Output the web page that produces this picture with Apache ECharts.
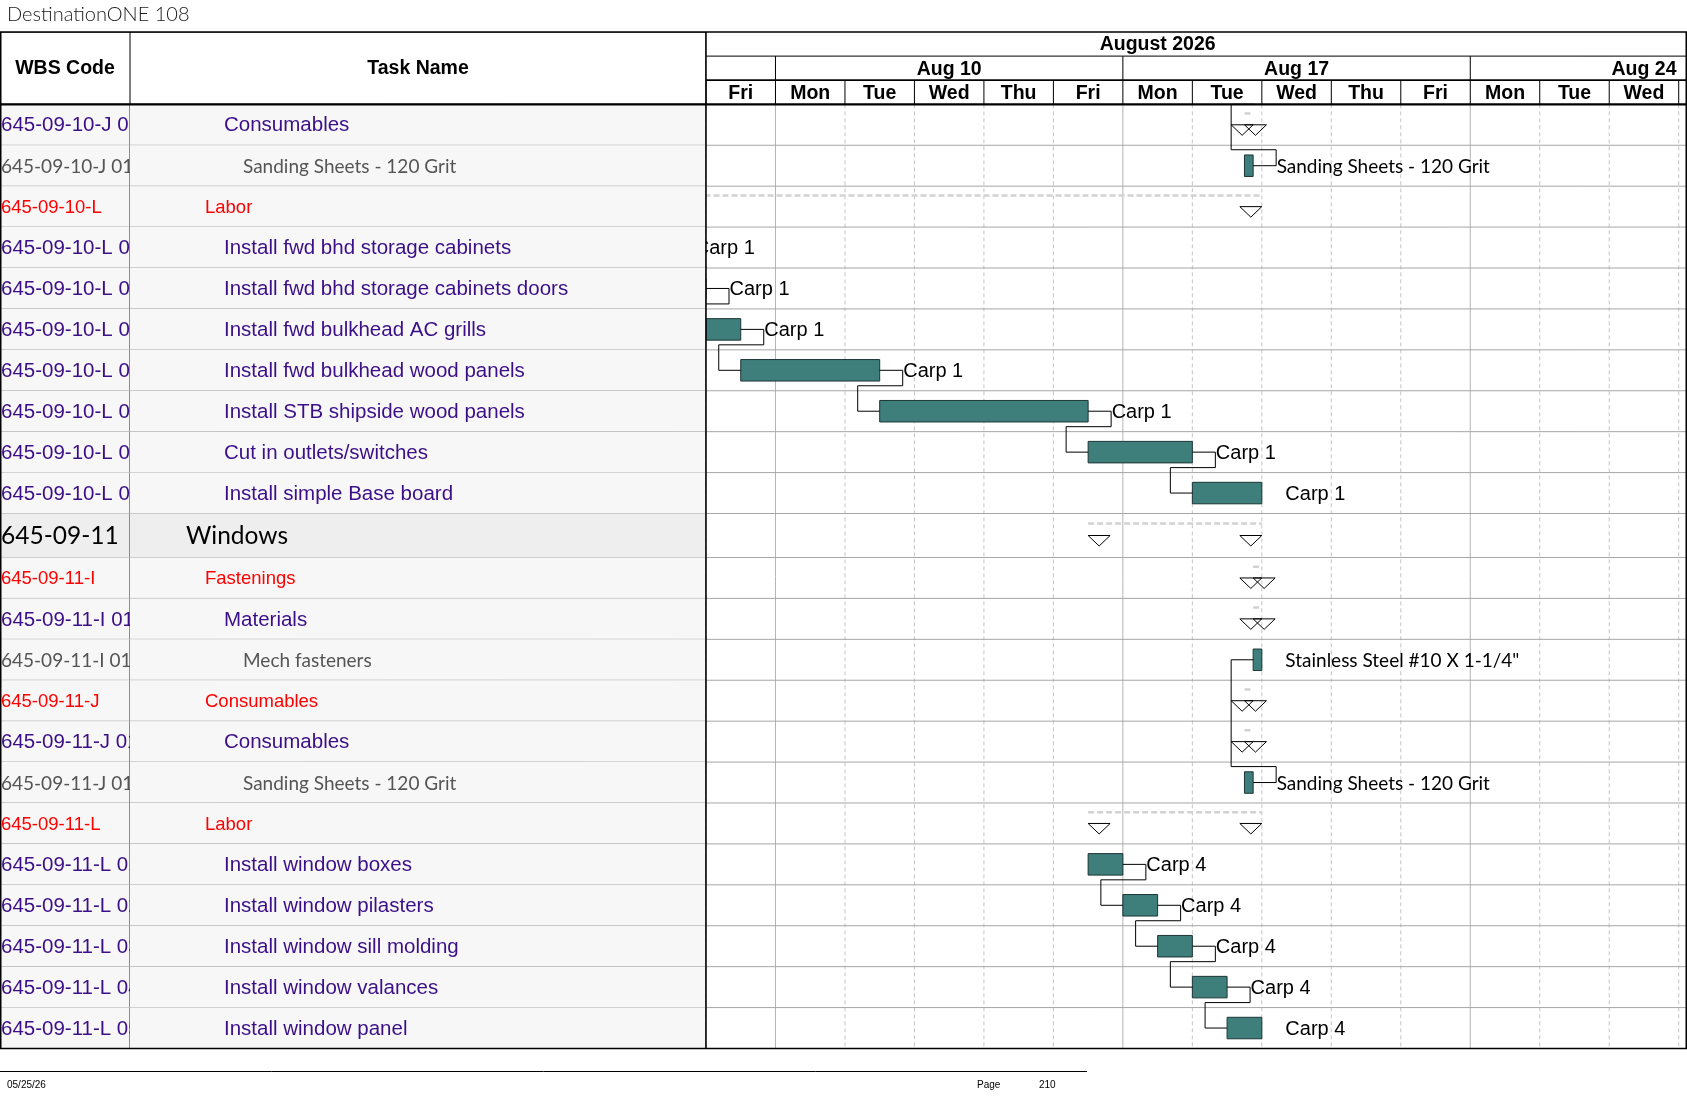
<!DOCTYPE html>
<html>
<head>
<meta charset="utf-8">
<title>DestinationONE 108</title>
<script src="https://cdn.jsdelivr.net/npm/echarts@6/dist/echarts.min.js"></script>
<style>
  html, body { margin: 0; padding: 0; background: #fff; }
  #main { width: 1687px; height: 1097px; }
</style>
</head>
<body>
<div id="main"></div>
<script>
// ---- data (one entry per row, top to bottom) ----
const wbsCodes = [
  '645-09-10-J 01', '645-09-10-J 01-01', '645-09-10-L',
  '645-09-10-L 01', '645-09-10-L 02', '645-09-10-L 03', '645-09-10-L 04',
  '645-09-10-L 05', '645-09-10-L 06', '645-09-10-L 07',
  '645-09-11', '645-09-11-I', '645-09-11-I 01', '645-09-11-I 01-01',
  '645-09-11-J', '645-09-11-J 01', '645-09-11-J 01-01', '645-09-11-L',
  '645-09-11-L 01', '645-09-11-L 02', '645-09-11-L 03', '645-09-11-L 04', '645-09-11-L 05'
];
const taskNames = [
  'Consumables', 'Sanding Sheets - 120 Grit', 'Labor',
  'Install fwd bhd storage cabinets', 'Install fwd bhd storage cabinets doors',
  'Install fwd bulkhead AC grills', 'Install fwd bulkhead wood panels',
  'Install STB shipside wood panels', 'Cut in outlets/switches', 'Install simple Base board',
  'Windows', 'Fastenings', 'Materials', 'Mech fasteners',
  'Consumables', 'Consumables', 'Sanding Sheets - 120 Grit', 'Labor',
  'Install window boxes', 'Install window pilasters', 'Install window sill molding',
  'Install window valances', 'Install window panel'
];
// outline level: 0 section, 1 group, 2 task/sub-group, 3 material line
const taskLevels = [2, 3, 1, 2, 2, 2, 2, 2, 2, 2, 0, 1, 2, 3, 1, 2, 3, 1, 2, 2, 2, 2, 2];
// S = summary (markers), T = task bar
const taskKinds = ['S', 'T', 'S', 'T', 'T', 'T', 'T', 'T', 'T', 'T', 'S', 'S', 'S', 'T', 'S', 'S', 'T', 'S', 'T', 'T', 'T', 'T', 'T'];
// working days counted from Fri Aug 7 2026 (weekends skipped)
const startDays = [7.75, 7.75, -3, -1.5, -0.5, 0, 0.5, 2.5, 5.5, 7.0, 5.5, 7.875, 7.875, 7.875, 7.75, 7.75, 7.75, 5.5, 5.5, 6.0, 6.5, 7.0, 7.5];
const endDays   = [7.875, 7.875, 8, -0.5, 0, 0.5, 2.5, 5.5, 7.0, 8.0, 8.0, 8.0, 8.0, 8.0, 7.875, 7.875, 7.875, 8.0, 6.0, 6.5, 7.0, 7.5, 8.0];
const barLabels = [
  '', 'Sanding Sheets - 120 Grit', '', 'Carp 1', 'Carp 1', 'Carp 1', 'Carp 1', 'Carp 1', 'Carp 1', 'Carp 1',
  '', '', '', 'Stainless Steel #10 X 1-1/4"', '', '', 'Sanding Sheets - 120 Grit', '',
  'Carp 4', 'Carp 4', 'Carp 4', 'Carp 4', 'Carp 4'
];
// finish-to-start links (row index; -1 = task on the previous page)
const linkFrom = [1, 3, 4, 5, 6, 7, 8, 16, 18, 19, 20, 21];
const linkTo   = [-1, 4, 5, 6, 7, 8, 9, 13, 19, 20, 21, 22];
const offPageStart = 7.875;

// timescale
const dayLabels = ['Fri', 'Mon', 'Tue', 'Wed', 'Thu', 'Fri', 'Mon', 'Tue', 'Wed', 'Thu', 'Fri', 'Mon', 'Tue', 'Wed', 'Thu'];
const weekLabels = ['Aug 3', 'Aug 10', 'Aug 17', 'Aug 24'];
const weekStartDays = [-4, 1, 6, 11];
const monthLabel = 'August 2026';
const monthStartDay = -4, monthEndDay = 17;

const docTitle = 'DestinationONE 108';
const footerDate = '05/25/26';
const pageNumber = '210';

// ---- layout ----
const ARIAL = '"Liberation Sans", Arial, sans-serif';
const CALI = 'Lato, "Noto Sans", sans-serif';
const levelStyle = [
  { color: '#000000', font: CALI, size: 24.5, indent: 56, bg: '#eeeeee' },
  { color: '#ff0000', font: ARIAL, size: 18.5, indent: 75, bg: '#f7f7f7' },
  { color: '#3b0f87', font: ARIAL, size: 20.5, indent: 94, bg: '#f7f7f7' },
  { color: '#555555', font: CALI, size: 19, indent: 113, bg: '#f7f7f7' }
];
const rowSpan = taskLevels.map(l => (l === 0 ? 1.075 : 1));
const rowTop = [];
let acc = 0;
rowSpan.forEach(s => { rowTop.push(acc); acc += s; });
const totalRows = acc;
const HDR = 1.768;          // header height in row units
const TOP = 32, BOTTOM = 1048.5;
const rows = taskNames.map((_, i) => i);

function rowBand(api, i) {
  const t = api.coord([0, rowTop[i]])[1];
  const b = api.coord([0, rowTop[i] + rowSpan[i]])[1];
  return [t, b];
}

function leftCell(col) {
  return function (params, api) {
    const i = params.dataIndex;
    const cs = params.coordSys;
    const [t, b] = rowBand(api, i);
    const st = levelStyle[taskLevels[i]];
    const tx = col === 0 ? cs.x + 1 : cs.x + st.indent;
    return {
      type: 'group',
      children: [
        { type: 'rect', shape: { x: cs.x, y: t, width: cs.width, height: b - t }, style: { fill: st.bg } },
        { type: 'line', shape: { x1: cs.x, y1: b, x2: cs.x + cs.width, y2: b }, style: { stroke: '#a6a6a6', lineWidth: 1 } },
        { type: 'line', shape: { x1: cs.x + cs.width - 0.5, y1: t, x2: cs.x + cs.width - 0.5, y2: b }, style: { stroke: '#8c8c8c', lineWidth: 1 } },
        { type: 'text', x: tx, y: (t + b) / 2 + 1,
          style: { text: col === 0 ? wbsCodes[i] : taskNames[i], fill: st.color, fontFamily: st.font, fontSize: st.size, align: 'left', verticalAlign: 'middle' } }
      ]
    };
  };
}

function leftHeader(label) {
  return function (params, api) {
    const a = api.coord([0, -HDR]);
    const b = api.coord([1, 0]);
    return {
      type: 'group',
      children: [
        { type: 'rect', shape: { x: a[0], y: a[1], width: b[0] - a[0], height: b[1] - a[1] }, style: { fill: '#fff', stroke: '#000', lineWidth: 1 } },
        { type: 'text', x: (a[0] + b[0]) / 2, y: (a[1] + b[1]) / 2,
          style: { text: label, fill: '#000', fontFamily: ARIAL, fontWeight: 'bold', fontSize: 19.5, align: 'center', verticalAlign: 'middle' } }
      ]
    };
  };
}

const hdrText = { fill: '#000', fontFamily: ARIAL, fontWeight: 'bold', fontSize: 19.5, align: 'center', verticalAlign: 'middle' };

function renderDayHeader(params, api) {
  const i = params.dataIndex;
  const a = api.coord([i, -HDR / 3]);
  const b = api.coord([i + 1, 0]);
  return {
    type: 'group',
    children: [
      { type: 'line', shape: { x1: a[0], y1: a[1], x2: a[0], y2: b[1] }, style: { stroke: '#000', lineWidth: 1 } },
      { type: 'text', x: (a[0] + b[0]) / 2, y: (a[1] + b[1]) / 2 + 1, style: Object.assign({ text: dayLabels[i] }, hdrText) }
    ]
  };
}

function renderWeekHeader(params, api) {
  const k = params.dataIndex;
  const cs = params.coordSys;
  const a = api.coord([weekStartDays[k], -2 * HDR / 3]);
  const b = api.coord([weekStartDays[k] + 5, -HDR / 3]);
  return {
    type: 'group',
    children: [
      { type: 'line', shape: { x1: a[0], y1: a[1], x2: a[0], y2: b[1] }, style: { stroke: '#000', lineWidth: 1 } },
      { type: 'line', shape: { x1: cs.x, y1: b[1], x2: cs.x + cs.width, y2: b[1] }, style: { stroke: '#000', lineWidth: 1 } },
      { type: 'text', x: (a[0] + b[0]) / 2, y: (a[1] + b[1]) / 2 + 1, style: Object.assign({ text: weekLabels[k] }, hdrText) }
    ]
  };
}

function renderMonthHeader(params, api) {
  const cs = params.coordSys;
  const a = api.coord([monthStartDay, -HDR]);
  const b = api.coord([monthEndDay, -2 * HDR / 3]);
  return {
    type: 'group',
    children: [
      { type: 'line', shape: { x1: cs.x, y1: b[1], x2: cs.x + cs.width, y2: b[1] }, style: { stroke: '#000', lineWidth: 1 } },
      { type: 'text', x: (a[0] + b[0]) / 2, y: (a[1] + b[1]) / 2 + 1, style: Object.assign({ text: monthLabel }, hdrText) }
    ]
  };
}

function renderDayLine(params, api) {
  const i = params.dataIndex;
  const a = api.coord([i, 0]);
  const b = api.coord([i, totalRows]);
  const weekStart = dayLabels[i] === 'Mon';
  return {
    type: 'line',
    shape: { x1: a[0], y1: a[1], x2: b[0], y2: b[1] },
    style: weekStart ? { stroke: '#b4b4b4', lineWidth: 1 } : { stroke: '#c4c4c4', lineWidth: 1, lineDash: [4, 3] }
  };
}

function renderTask(params, api) {
  const i = params.dataIndex;
  const cs = params.coordSys;
  const [t, b] = rowBand(api, i);
  const yc = (t + b) / 2;
  const xs = api.coord([startDays[i], 0])[0];
  const xe = api.coord([endDays[i], 0])[0];
  const children = [
    { type: 'line', shape: { x1: cs.x, y1: b, x2: cs.x + cs.width, y2: b }, style: { stroke: '#a6a6a6', lineWidth: 1 } }
  ];
  if (taskKinds[i] === 'T') {
    children.push({ type: 'rect', shape: { x: xs, y: yc - 10.75, width: xe - xs, height: 21.5 },
      style: { fill: '#3e7e7b', stroke: '#1c3535', lineWidth: 1 } });
    if (barLabels[i]) {
      const cali = taskLevels[i] === 3;
      children.push({ type: 'text', x: xe + 23.5, y: yc + 1,
        style: { text: barLabels[i], fill: '#000', fontFamily: cali ? CALI : ARIAL, fontSize: cali ? 19 : 20, align: 'left', verticalAlign: 'middle' } });
    }
  } else {
    const yd = t + (b - t) * 0.225;
    children.push({ type: 'line', shape: { x1: xs, y1: yd, x2: xe, y2: yd },
      style: { stroke: '#d2d2d2', lineWidth: 2.5, lineDash: [6, 3] } });
    children.push({ type: 'polygon', shape: { points: [[xs, yc], [xs + 22, yc], [xs + 11, yc + 10.5]] },
      style: { fill: 'none', stroke: '#000', lineWidth: 1 } });
    children.push({ type: 'polygon', shape: { points: [[xe - 22, yc], [xe, yc], [xe - 11, yc + 10.5]] },
      style: { fill: 'none', stroke: '#000', lineWidth: 1 } });
  }
  return { type: 'group', children };
}

function renderLink(params, api) {
  const k = params.dataIndex;
  const p = linkFrom[k], s = linkTo[k];
  const [pt, pb] = rowBand(api, p);
  const y1 = (pt + pb) / 2;
  const x1 = api.coord([endDays[p], 0])[0];
  const xa = x1 + 23;
  const down = s > p;
  const yb = down ? pb - 5 : pt + 4.5;
  let xs, ys;
  if (s >= 0) {
    const [st, sb] = rowBand(api, s);
    xs = api.coord([startDays[s], 0])[0];
    ys = (st + sb) / 2;
  } else {
    xs = api.coord([offPageStart, 0])[0];
    ys = api.coord([0, 0])[1];
  }
  const xc = xs - 22;
  return {
    type: 'polyline',
    shape: { points: [[x1, y1], [xa, y1], [xa, yb], [xc, yb], [xc, ys], [xs, ys]] },
    style: { stroke: '#000', lineWidth: 1, fill: 'none' }
  };
}

const chart = echarts.init(document.getElementById('main'), null, { renderer: 'canvas' });

const gridCommon = { top: TOP, height: BOTTOM - TOP, show: false };
const yCommon = { type: 'value', inverse: true, min: -HDR, max: totalRows, show: false };

const option = {
  animation: false,
  backgroundColor: '#fff',
  title: {
    text: docTitle, left: 7, top: 5, padding: 0,
    textStyle: { fontFamily: 'Lato, sans-serif', fontWeight: 300, fontSize: 20, color: '#1a1a1a' }
  },
  grid: [
    Object.assign({ left: 0, width: 130 }, gridCommon),
    Object.assign({ left: 130, width: 576 }, gridCommon),
    Object.assign({ left: 706, width: 980 }, gridCommon)
  ],
  xAxis: [
    { type: 'value', gridIndex: 0, min: 0, max: 1, show: false },
    { type: 'value', gridIndex: 1, min: 0, max: 1, show: false },
    { type: 'value', gridIndex: 2, min: 0, max: 14.105, show: false }
  ],
  yAxis: [
    Object.assign({ gridIndex: 0 }, yCommon),
    Object.assign({ gridIndex: 1 }, yCommon),
    Object.assign({ gridIndex: 2 }, yCommon)
  ],
  series: [
    { type: 'custom', name: 'wbs', xAxisIndex: 0, yAxisIndex: 0, clip: true, silent: true, z: 2, data: rows, renderItem: leftCell(0) },
    { type: 'custom', name: 'task', xAxisIndex: 1, yAxisIndex: 1, clip: true, silent: true, z: 2, data: rows, renderItem: leftCell(1) },
    { type: 'custom', name: 'wbsHead', xAxisIndex: 0, yAxisIndex: 0, clip: true, silent: true, z: 2, data: [0], renderItem: leftHeader('WBS Code') },
    { type: 'custom', name: 'taskHead', xAxisIndex: 1, yAxisIndex: 1, clip: true, silent: true, z: 2, data: [0], renderItem: leftHeader('Task Name') },
    { type: 'custom', name: 'days', xAxisIndex: 2, yAxisIndex: 2, clip: true, silent: true, z: 2, data: dayLabels.map((_, i) => i), renderItem: renderDayHeader },
    { type: 'custom', name: 'weeks', xAxisIndex: 2, yAxisIndex: 2, clip: true, silent: true, z: 2, data: weekLabels.map((_, i) => i), renderItem: renderWeekHeader },
    { type: 'custom', name: 'month', xAxisIndex: 2, yAxisIndex: 2, clip: true, silent: true, z: 2, data: [0], renderItem: renderMonthHeader },
    { type: 'custom', name: 'dayLines', xAxisIndex: 2, yAxisIndex: 2, clip: true, silent: true, z: 1, data: dayLabels.map((_, i) => i), renderItem: renderDayLine },
    { type: 'custom', name: 'gantt', xAxisIndex: 2, yAxisIndex: 2, clip: true, silent: true, z: 3, data: rows, renderItem: renderTask },
    { type: 'custom', name: 'links', xAxisIndex: 2, yAxisIndex: 2, clip: true, silent: true, z: 3, data: linkFrom.map((_, i) => i), renderItem: renderLink }
  ],
  graphic: [
    { type: 'rect', z: 100, silent: true, shape: { x: 0.75, y: TOP, width: 1685.5, height: BOTTOM - TOP }, style: { fill: 'none', stroke: '#000', lineWidth: 1.5 } },
    { type: 'line', z: 100, silent: true, shape: { x1: 0, y1: 104.4, x2: 1687, y2: 104.4 }, style: { stroke: '#000', lineWidth: 2.2 } },
    { type: 'line', z: 100, silent: true, shape: { x1: 706, y1: TOP, x2: 706, y2: BOTTOM }, style: { stroke: '#000', lineWidth: 1.5 } },
    { type: 'line', z: 100, silent: true, shape: { x1: 0, y1: 1071.5, x2: 1087, y2: 1071.5 }, style: { stroke: '#000', lineWidth: 1 } },
    { type: 'text', z: 100, silent: true, x: 7, y: 1085, style: { text: footerDate, fill: '#000', fontFamily: ARIAL, fontSize: 10, verticalAlign: 'middle' } },
    { type: 'text', z: 100, silent: true, x: 977, y: 1085, style: { text: 'Page', fill: '#000', fontFamily: ARIAL, fontSize: 10, verticalAlign: 'middle' } },
    { type: 'text', z: 100, silent: true, x: 1039, y: 1085, style: { text: pageNumber, fill: '#000', fontFamily: ARIAL, fontSize: 10, verticalAlign: 'middle' } }
  ]
};

chart.setOption(option);
</script>
</body>
</html>
